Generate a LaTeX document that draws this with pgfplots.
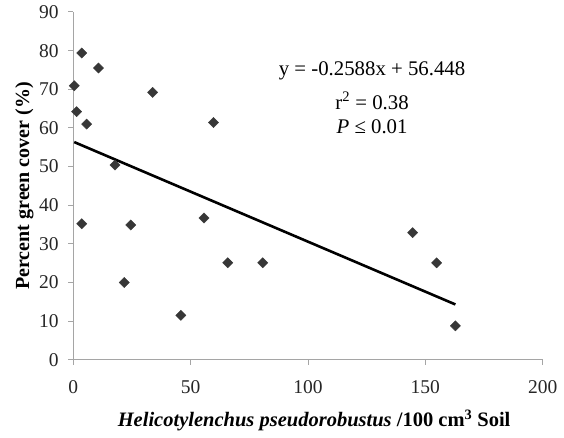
\documentclass[border=0pt]{standalone}
\usepackage{fontspec}
\setmainfont{Liberation Serif}
\usepackage{pgfplots}
\pgfplotsset{compat=1.18}
\definecolor{axgray}{RGB}{165,165,165}
\definecolor{markgray}{RGB}{55,55,55}
\begin{document}
\fontsize{19.5}{22}\selectfont
\begin{tikzpicture}
\path[use as bounding box] (-73.3pt,-77.2pt) rectangle (490.7pt,359.8pt);
\begin{axis}[
  at={(0pt,0pt)}, anchor=south west,
  scale only axis, width=469.4pt, height=347.8pt,
  xmin=0, xmax=200, ymin=0, ymax=90,
  axis lines=left,
  axis line style={draw=axgray, line width=1pt, -},
  xtick={0,50,...,200}, ytick={0,10,...,90},
  tick style={draw=axgray, line width=1pt},
  tick align=outside, major tick length=5pt,
  /pgf/number format/assume math mode=true,
  ticklabel style={font=\fontsize{19.5}{22}\selectfont, text=black!85},
  xticklabel style={yshift=-9pt},
  yticklabel style={xshift=-3pt},
  xlabel={\textbf{\textit{Helicotylenchus pseudorobustus}} \textbf{/100 cm\textsuperscript{3} Soil}},
  ylabel={\textbf{Percent green cover (\%)}},
  xlabel style={at={(axis description cs:0.513,-0.175)}, anchor=center, font=\fontsize{20.5}{23}\selectfont},
  ylabel style={at={(axis description cs:-0.104,0.5)}, anchor=center, font=\fontsize{20}{23}\selectfont},
  clip=false,
]
\addplot[black, line width=2.6pt] coordinates {(0.4,56.34) (162.8,14.32)};
\addplot[only marks, mark=square*, mark size=3.6pt,
  mark options={rotate=45, fill=markgray, draw=markgray}] coordinates {
  (3.6,79.4) (10.7,75.5) (0.4,70.9) (33.8,69.2) (1.4,64.2) (5.7,61.0)
  (59.7,61.4) (17.8,50.4) (55.7,36.7) (3.6,35.2) (24.5,34.9) (21.7,20.0)
  (45.8,11.5) (65.8,25.1) (80.7,25.1) (144.6,32.9) (154.8,25.1) (162.8,8.8)
};
\node[anchor=center, font=\fontsize{20.8}{23}\selectfont] at (axis cs:127.3,74.8) {y = -0.2588x + 56.448};
\node[anchor=center, font=\fontsize{20.8}{23}\selectfont] at (axis cs:127.3,67.0) {r\textsuperscript{2} = 0.38};
\node[anchor=center, font=\fontsize{20.8}{23}\selectfont] at (axis cs:127.3,60.3) {\textit{P} ≤ 0.01};
\end{axis}
\end{tikzpicture}
\end{document}
